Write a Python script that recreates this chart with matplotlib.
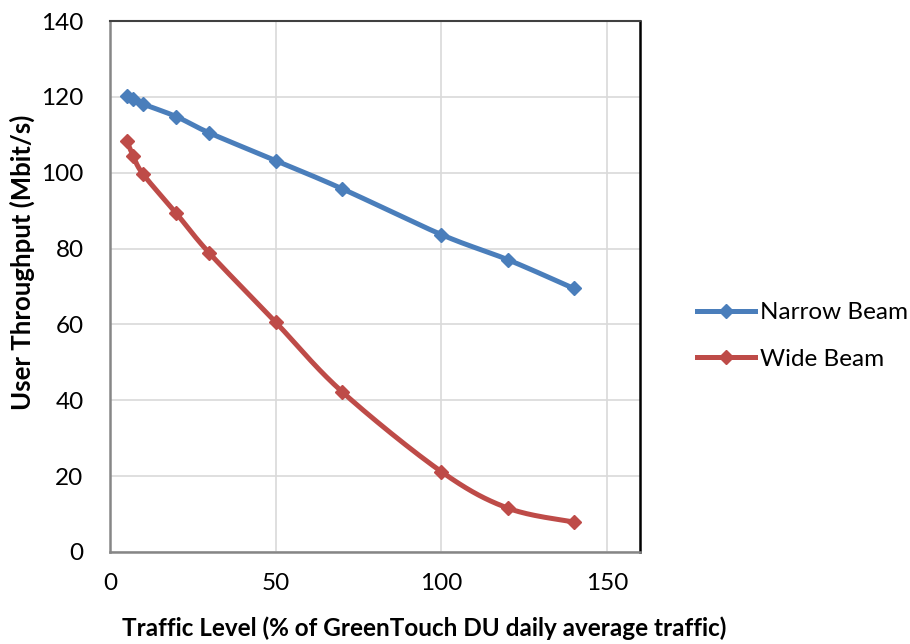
import numpy as np
import matplotlib
matplotlib.use("Agg")
import matplotlib.pyplot as plt
from matplotlib.lines import Line2D

traffic = [5, 7, 10, 20, 30, 50, 70, 100, 120, 140]
narrow_beam = [120.2, 119.4, 118.1, 114.8, 110.5, 103.2, 95.8, 83.7, 77.1, 69.5]
wide_beam = [108.4, 104.4, 99.6, 89.3, 78.8, 60.6, 42.3, 21.2, 11.6, 7.9]
series_names = ["Narrow Beam", "Wide Beam"]
x_ticks = [0, 50, 100, 150]
y_ticks = [0, 20, 40, 60, 80, 100, 120, 140]
x_label = "Traffic Level (% of GreenTouch DU daily average traffic)"
y_label = "User Throughput (Mbit/s)"

plt.rcParams['font.family'] = ['Lato', 'DejaVu Sans']

BLUE = '#4a7ebb'
RED = '#be4b48'

def smooth(xs, ys, sx=3.3, sy=3.79, n=30):
    # Catmull-Rom spline through the data points (rendering only, like Excel smoothing)
    P = np.column_stack([np.asarray(xs, float) * sx, np.asarray(ys, float) * sy])
    P = np.vstack([P[0], P, P[-1]])
    out = []
    for i in range(1, len(P) - 2):
        p0, p1, p2, p3 = P[i - 1], P[i], P[i + 1], P[i + 2]
        t = np.linspace(0, 1, n, endpoint=False)[:, None]
        seg = 0.5 * ((2 * p1) + (-p0 + p2) * t + (2 * p0 - 5 * p1 + 4 * p2 - p3) * t ** 2
                     + (-p0 + 3 * p1 - 3 * p2 + p3) * t ** 3)
        out.append(seg)
    out.append(P[-2][None, :])
    out = np.vstack(out)
    return out[:, 0] / sx, out[:, 1] / sy

fig = plt.figure(figsize=(9.1, 6.44), dpi=100)
ax = fig.add_axes([110 / 910, 1 - 552 / 644, 530 / 910, 531 / 644])

for ys, col in [(narrow_beam, BLUE), (wide_beam, RED)]:
    sx_, sy_ = smooth(traffic, ys)
    ax.plot(sx_, sy_, color=col, lw=3.6, solid_capstyle='round', zorder=3)
    ax.plot(traffic, ys, linestyle='none', marker='D', ms=7, color=col, zorder=4)

ax.set_xlim(0, 160)
ax.set_ylim(0, 140)
ax.set_xticks(x_ticks)
ax.set_yticks(y_ticks)
ax.grid(True, color='#d9d9d9', lw=1.2, zorder=0)
ax.set_axisbelow(True)
ax.tick_params(length=0, labelsize=17.5, colors='black')
ax.tick_params(axis='y', pad=19)
ax.tick_params(axis='x', pad=15)
for s in ['left', 'bottom']:
    ax.spines[s].set_color('#868686')
    ax.spines[s].set_linewidth(1.8)
ax.spines['top'].set_color('#404040')
ax.spines['top'].set_linewidth(1.5)
ax.spines['right'].set_color('black')
ax.spines['right'].set_linewidth(1.8)

fig.text(424 / 910, 1 - 628 / 644, x_label, ha='center', va='center',
         fontsize=17.5, fontweight='bold')
fig.text(22 / 910, 1 - 262 / 644, y_label, ha='center', va='center',
         rotation=90, fontsize=18.5, fontweight='bold')

handles = [Line2D([0, 0.5, 1], [0, 0, 0], color=BLUE, lw=3.6, marker='D', ms=7, markevery=[1]),
           Line2D([0, 0.5, 1], [0, 0, 0], color=RED, lw=3.6, marker='D', ms=7, markevery=[1])]
leg = fig.legend(handles, series_names, loc='center left',
                 bbox_to_anchor=(697 / 910, 1 - 336 / 644), frameon=False,
                 fontsize=17.5, handlelength=2.4, handletextpad=0.2,
                 labelspacing=1.05, borderaxespad=0, borderpad=0)

fig.savefig('out.png', dpi=100)
